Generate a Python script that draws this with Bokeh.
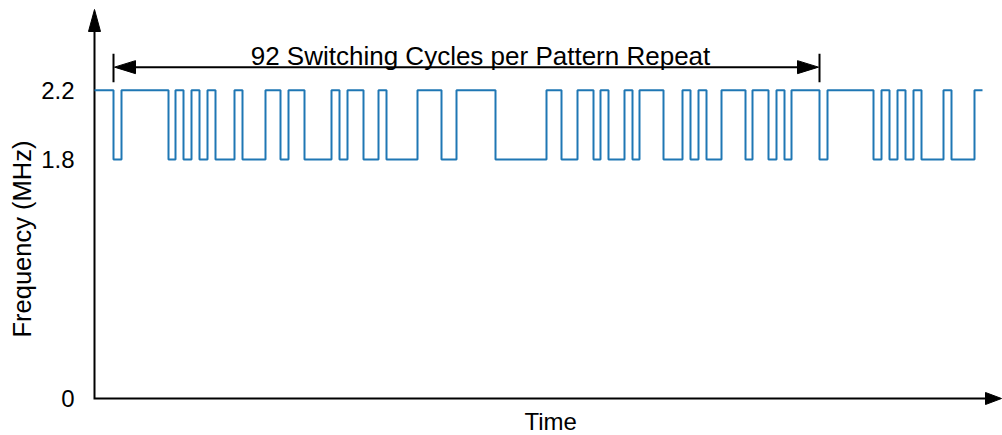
import math
from bokeh.plotting import figure
from bokeh.models import Range1d, FixedTicker, Label, Title
from bokeh.embed import file_html
from bokeh.resources import INLINE

# ---------------- data ----------------
freq_levels_mhz = [2.2, 1.8]      # high / low switching frequency
start_level_mhz = 2.2
# times (arbitrary units) at which the frequency toggles
edge_times = [19, 27, 74, 81, 89, 97, 105, 113, 121, 140, 148, 171, 186, 194,
              210, 237, 245, 253, 269, 284, 292, 323, 347, 362, 401, 452, 467,
              483, 499, 506, 514, 530, 538, 545, 569, 588, 596, 604, 612, 627,
              651, 658, 674, 682, 690, 697, 725, 733, 779, 787, 795, 803, 811,
              819, 827, 849, 857, 880]
end_time = 888
repeat_start_time = 19
repeat_end_time = 725
repeat_label = "92 Switching Cycles per Pattern Repeat"
y_tick_values = [1.8, 2.2]
x_label = "Time"
y_label = "Frequency (MHz)"

# ---------------- step trace ----------------
hi, lo = freq_levels_mhz
xs = [0] + edge_times + [end_time]
ys = [start_level_mhz]
lvl = start_level_mhz
for _ in edge_times:
    lvl = lo if lvl == hi else hi
    ys.append(lvl)
ys.append(lvl)

# ---------------- layout constants ----------------
PX = 173.3                 # pixels per MHz on the (schematic) y scale
Y_AXIS = 0.421             # where the time axis sits (labelled "0")
FRAME_H = 405
Y_TOP = 2.7176
Y_BOTTOM = Y_TOP - FRAME_H / PX
X_LEFT, X_RIGHT = -10, 908
FONT = "Liberation Sans"

p = figure(width=1002, height=435, output_backend="svg", toolbar_location=None,
           x_range=Range1d(X_LEFT, X_RIGHT), y_range=Range1d(Y_BOTTOM, Y_TOP),
           title=None, min_border_left=84, min_border_right=0,
           min_border_top=0, min_border_bottom=435 - FRAME_H)
p.outline_line_color = None
p.grid.visible = False
p.background_fill_color = "white"
p.border_fill_color = "white"

p.xaxis.visible = False
yax = p.yaxis[0]
yax.ticker = FixedTicker(ticks=[Y_AXIS] + y_tick_values)
yax.major_label_overrides = {Y_AXIS: "0"}
yax.axis_line_color = None
yax.major_tick_line_color = None
yax.minor_tick_line_color = None
yax.major_label_standoff = 4
yax.major_label_text_font = FONT
yax.major_label_text_font_size = "24px"
yax.major_label_text_color = "black"

# axis titles
p.add_layout(Title(text=y_label, align="left", offset=68, standoff=6,
                   text_font=FONT, text_font_size="25.5px",
                   text_font_style="normal", text_color="black"), "left")
p.add_layout(Title(text=x_label, align="left", offset=440, standoff=0,
                   text_font=FONT, text_font_size="24px",
                   text_font_style="normal", text_color="black"), "below")

# axes lines with arrow heads
head_len_y = 22 / PX
head_half = 6
y_tip = 2.6657
x_tip = X_RIGHT - 1
p.line([0, 0, x_tip - 15], [y_tip - head_len_y, Y_AXIS, Y_AXIS],
       line_color="black", line_width=2, line_join="miter")
p.patch([0, -head_half, head_half], [y_tip, y_tip - head_len_y, y_tip - head_len_y],
        fill_color="black", line_color="black", line_width=1)
p.patch([x_tip, x_tip - 16, x_tip - 16],
        [Y_AXIS, Y_AXIS + head_half / PX, Y_AXIS - head_half / PX],
        fill_color="black", line_color="black", line_width=1)

# waveform
p.step(xs, ys, mode="after", line_color="#1f77b4", line_width=2)

# dimension arrow
Y_DIM = 2.333
bar_lo, bar_hi = 2.246, 2.411
p.segment(x0=[repeat_start_time + 20], y0=[Y_DIM], x1=[repeat_end_time - 20], y1=[Y_DIM],
          line_color="black", line_width=2)
p.segment(x0=[repeat_start_time, repeat_end_time], y0=[bar_lo, bar_lo],
          x1=[repeat_start_time, repeat_end_time], y1=[bar_hi, bar_hi],
          line_color="black", line_width=2)
hh = 6.5 / PX
p.patch([repeat_start_time + 1, repeat_start_time + 22, repeat_start_time + 22],
        [Y_DIM, Y_DIM + hh, Y_DIM - hh], fill_color="black", line_color="black")
p.patch([repeat_end_time - 1, repeat_end_time - 22, repeat_end_time - 22],
        [Y_DIM, Y_DIM + hh, Y_DIM - hh], fill_color="black", line_color="black")

p.add_layout(Label(x=386, y=2.40, text=repeat_label, text_align="center",
                   text_baseline="alphabetic", text_font=FONT, text_font_size="26px",
                   text_color="black"))

open("out.html", "w").write(file_html(p, INLINE))
